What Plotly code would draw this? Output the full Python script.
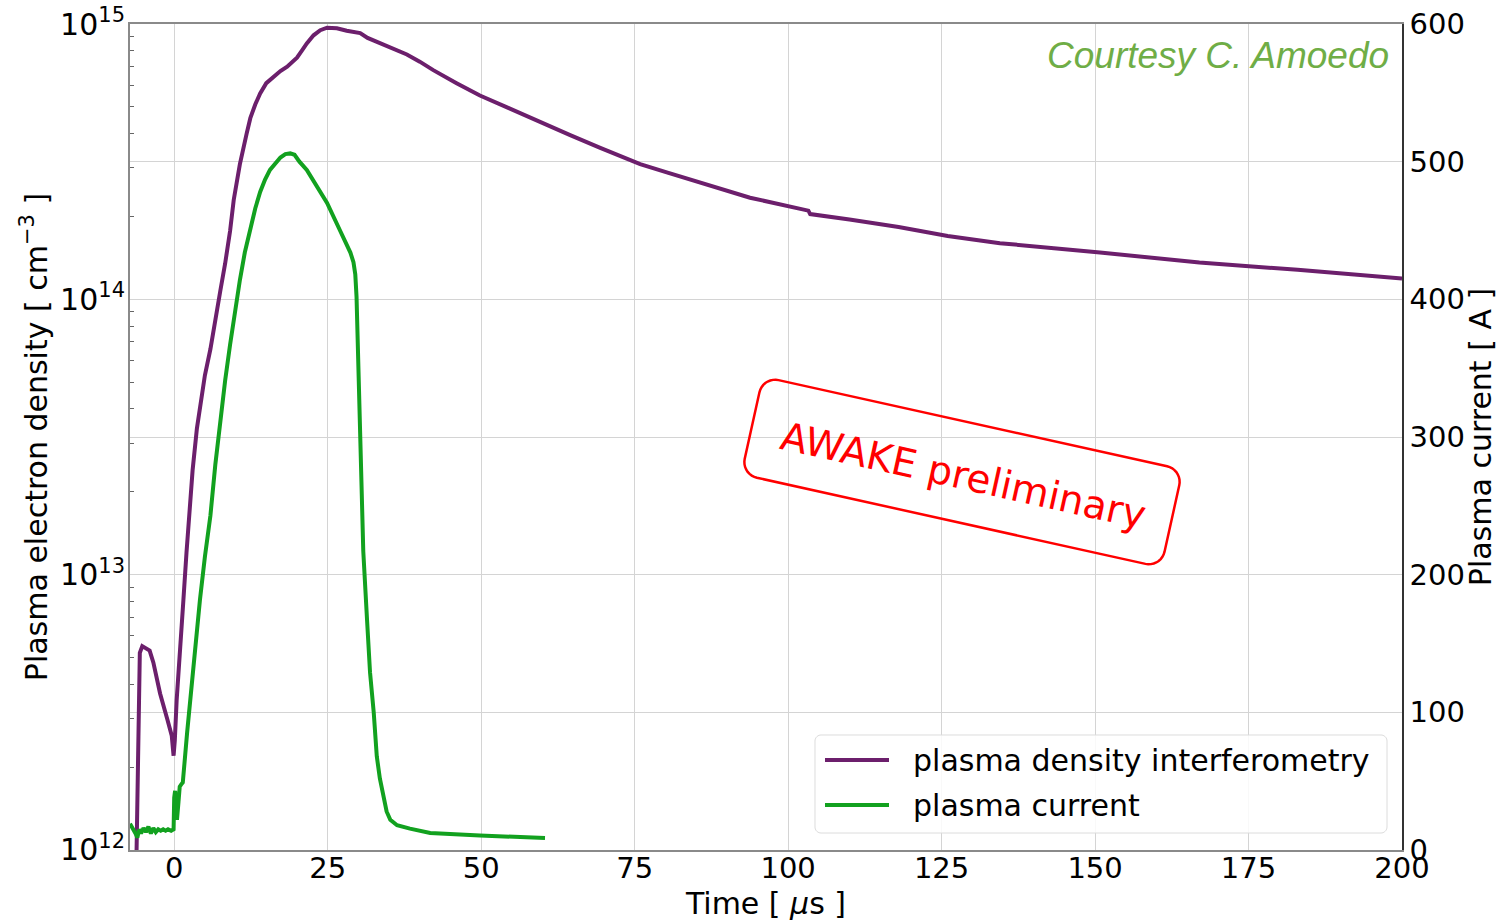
import math
import plotly.graph_objects as go

# Plasma electron density from interferometry (time in µs, density in cm^-3)
t_density = [-6.2, -5.9, -5.6, -5.2, -4.6, -4.0, -3.4, -2.3, -1.1, -0.4, -0.1,
             0.1, 0.4, 1.0, 1.5, 2.0, 2.6, 3.0, 3.7, 4.2, 5.0, 5.9, 6.5, 7.5,
             8.3, 9.1, 9.7, 10.7, 11.8, 12.4, 13.2, 14.0, 15.0, 16.2, 17.3,
             18.4, 19.3, 20.0, 20.8, 21.6, 22.7, 23.8, 24.9, 26.5, 28.1, 29.5,
             30.3, 31.5, 33.5, 35.6, 37.9, 40.0, 42.2, 46.0, 49.8, 54.5, 59.6,
             64.5, 69.4, 75.9, 80.5, 85.7, 93.8, 103.3, 103.6, 110.0, 118.0,
             126.0, 134.5, 150.8, 167.0, 183.0, 200.0]
density = [8.0e11, 2.5e12, 5.2e12, 5.5e12, 5.4e12, 5.3e12, 4.8e12, 3.7e12,
           2.97e12, 2.6e12, 2.2e12, 2.5e12, 3.5e12, 5.3e12, 8.1e12, 1.2e13,
           1.87e13, 2.4e13, 3.4e13, 4.1e13, 5.3e13, 6.6e13, 8.0e13, 1.07e14,
           1.35e14, 1.77e14, 2.3e14, 3.1e14, 4.0e14, 4.55e14, 5.1e14, 5.6e14,
           6.1e14, 6.46e14, 6.75e14, 7.0e14, 7.3e14, 7.55e14, 8.0e14, 8.5e14,
           9.1e14, 9.5e14, 9.7e14, 9.65e14, 9.46e14, 9.35e14, 9.27e14, 8.9e14,
           8.5e14, 8.15e14, 7.75e14, 7.3e14, 6.8e14, 6.1e14, 5.5e14, 4.95e14,
           4.4e14, 3.95e14, 3.55e14, 3.1e14, 2.88e14, 2.65e14, 2.34e14, 2.1e14,
           2.04e14, 1.95e14, 1.83e14, 1.70e14, 1.60e14, 1.48e14, 1.36e14,
           1.28e14, 1.19e14]

# Discharge current through the plasma (time in µs, current in A)
t_current = [-7.2, -6.9, -6.6, -6.3, -6.0, -5.7, -5.4, -5.0, -4.6, -4.2, -3.8,
             -3.4, -3.0, -2.6, -2.2, -1.8, -1.4, -1.0, -0.5, -0.1, 0.0, 0.15,
             0.3, 0.45, 0.7, 0.9, 1.2, 1.4, 2.1, 3.1, 4.2, 5.0, 5.9, 6.7, 7.5,
             8.3, 9.1, 9.9, 10.7, 11.5, 12.4, 13.2, 14.0, 14.8, 15.6, 16.5,
             17.3, 18.1, 18.9, 19.6, 20.4, 21.6, 23.3, 24.9, 26.8, 28.7, 29.2,
             29.5, 29.7, 30.0, 30.3, 30.8, 31.4, 31.9, 32.5, 33.0, 33.5, 34.1,
             34.6, 35.2, 36.3, 38.4, 41.7, 49.8, 60.4]
current = [19, 17, 14, 12, 9, 15, 12, 16, 13, 17, 12, 16, 13, 15, 14, 15, 14,
           15, 14, 15, 38, 43, 30, 22, 35, 46, 48, 49, 85, 133, 182, 213, 243,
           280, 312, 341, 367, 392, 414, 434, 452, 466, 478, 487, 494, 499,
           503, 505.5, 506, 505, 500, 494, 482, 470, 452, 434, 427, 418, 402,
           350, 301, 217, 168, 129, 100, 68, 52, 38, 28, 22, 18, 15.5, 12.3,
           10.5, 8.7]

x_ticks = [0, 25, 50, 75, 100, 125, 150, 175, 200]
density_ticks = [1e12, 1e13, 1e14, 1e15]
density_ticktext = ["10<sup>12</sup>", "10<sup>13</sup>", "10<sup>14</sup>", "10<sup>15</sup>"]
density_minor = [m * 10.0 ** e for e in (12, 13, 14) for m in range(2, 10)]
current_ticks = [0, 100, 200, 300, 400, 500, 600]
series_names = ["plasma density interferometry", "plasma current"]

PURPLE = "#6c1f6c"
GREEN = "#12a11f"
FONT = "DejaVu Sans"

W, H = 1498, 921
L, R, T, B = 130, 96, 24, 71
PW, PH = W - L - R, H - T - B

fig = go.Figure()
fig.add_trace(go.Scatter(x=t_density, y=density, mode="lines",
                         name=series_names[0], showlegend=False,
                         line=dict(color=PURPLE, width=4)))
fig.add_trace(go.Scatter(x=t_current, y=current, mode="lines",
                         name=series_names[1], yaxis="y2", showlegend=False,
                         line=dict(color=GREEN, width=4)))


def px_to_paper(px, py):
    return (px - L) / PW, (H - B - py) / PH


def rounded_rect_path(cx, cy, bw, bh, rad, angle_deg=0.0):
    """Closed SVG path (paper coords) for a rounded rectangle defined in pixels."""
    ang = math.radians(angle_deg)
    corners = [(bw / 2 - rad, -bh / 2 + rad, -90), (bw / 2 - rad, bh / 2 - rad, 0),
               (-bw / 2 + rad, bh / 2 - rad, 90), (-bw / 2 + rad, -bh / 2 + rad, 180)]
    pts = []
    for ccx, ccy, a0 in corners:
        for k in range(10):
            a = math.radians(a0 + 10 * k)
            lx, ly = ccx + rad * math.cos(a), ccy + rad * math.sin(a)
            sx = cx + lx * math.cos(ang) - ly * math.sin(ang)
            sy = cy + lx * math.sin(ang) + ly * math.cos(ang)
            pts.append(px_to_paper(sx, sy))
    return "M " + " L ".join(f"{p[0]:.5f},{p[1]:.5f}" for p in pts) + " Z"


# Tilted "preliminary" stamp
fig.add_shape(type="path", path=rounded_rect_path(962, 472, 430, 100, 16, 12.5),
              xref="paper", yref="paper",
              line=dict(color="#ff0000", width=2.5), fillcolor="rgba(0,0,0,0)")
sx, sy = px_to_paper(963, 476)
fig.add_annotation(text="AWAKE preliminary", x=sx, y=sy, xref="paper", yref="paper",
                   showarrow=False, textangle=12.5,
                   font=dict(family=FONT, size=39, color="#ff0000"))

ax_, ay_ = px_to_paper(1391, 56)
fig.add_annotation(text="<i>Courtesy C. Amoedo</i>", x=ax_, y=ay_,
                   xref="paper", yref="paper", xanchor="right", yanchor="middle",
                   showarrow=False,
                   font=dict(family="Liberation Sans", size=37, color="#6fad46"))

# Legend panel
fig.add_shape(type="path", path=rounded_rect_path(1101, 784, 572, 98, 6),
              xref="paper", yref="paper", line=dict(color="#dcdcdc", width=1),
              fillcolor="rgba(255,255,255,0.85)")
for name, color, ypx in [(series_names[0], PURPLE, 760), (series_names[1], GREEN, 805)]:
    x0, yl = px_to_paper(825, ypx)
    x1, _ = px_to_paper(889, ypx)
    fig.add_shape(type="line", x0=x0, x1=x1, y0=yl, y1=yl, xref="paper", yref="paper",
                  line=dict(color=color, width=4))
    xt, _ = px_to_paper(911, ypx)
    fig.add_annotation(text=name, x=xt, y=yl, xref="paper", yref="paper",
                       xanchor="left", yanchor="middle", showarrow=False,
                       font=dict(family=FONT, size=30, color="black"))

fig.update_layout(
    width=W, height=H,
    margin=dict(l=L, r=R, t=T, b=B),
    paper_bgcolor="white", plot_bgcolor="white",
    font=dict(family=FONT, size=29, color="black"),
    showlegend=False,
    xaxis=dict(range=[-7.2, 200], tickvals=x_ticks, showgrid=True,
               gridcolor="#d4d4d4", gridwidth=1, zeroline=False,
               showline=True, linecolor="#8a8a8a", linewidth=2, mirror=True,
               ticks="", ticklabelstandoff=-9,
               title=dict(text="Time [ <i>μ</i>s ]", standoff=10,
                          font=dict(size=30)),
               automargin=False),
    yaxis=dict(type="log", range=[12 - 1e-4, 15 + 1e-4], tickvals=density_ticks,
               ticktext=density_ticktext, tickfont=dict(size=30),
               showgrid=True, gridcolor="#d4d4d4", zeroline=False,
               showline=True, linecolor="#8a8a8a", linewidth=2,
               ticks="", ticklabelstandoff=-3,
               minor=dict(tickmode="array", tickvals=density_minor,
                          ticks="inside", ticklen=4, tickcolor="#666666",
                          showgrid=False),
               title=dict(text="Plasma electron density [ cm<sup>−3</sup> ]",
                          standoff=4, font=dict(size=30)),
               automargin=False),
    yaxis2=dict(overlaying="y", side="right", range=[0, 600],
                tickvals=current_ticks, showgrid=True, gridcolor="#d4d4d4",
                zeroline=False, showline=True, linecolor="#333333", linewidth=1.5,
                ticks="", ticklabelstandoff=0,
                title=dict(text="Plasma current [ A ]", standoff=6,
                           font=dict(size=30)),
                automargin=False),
)

fig.write_html("out.html")
